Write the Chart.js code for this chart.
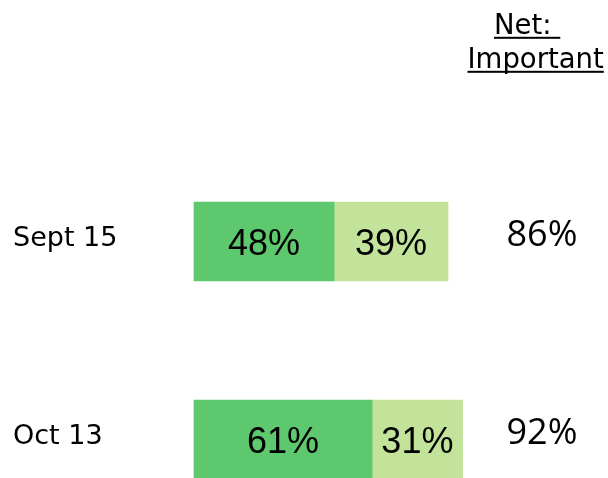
<!DOCTYPE html>
<html>
<head>
<meta charset="utf-8">
<script src="https://cdn.jsdelivr.net/npm/chart.js@4"></script>
<style>
  html, body { margin: 0; padding: 0; background: #fff; overflow: hidden; }
</style>
</head>
<body>
<canvas id="chart" width="608" height="478"></canvas>
<script>
const dates = ["Sept 15", "Oct 13"];
const veryImportant = [48, 61];
const somewhatImportant = [39, 31];
const netImportant = [86, 92];
const headerLines = ["Net: ", "Important"];

const darkGreen = "#5ec86e";
const lightGreen = "#c3e39b";

// percentages inside the bars, the net column on the right and its header
const textPlugin = {
  id: "textPlugin",
  afterDatasetsDraw(chart) {
    const ctx = chart.ctx;
    const yScale = chart.scales.y;
    ctx.save();
    ctx.fillStyle = "#000";
    ctx.textBaseline = "alphabetic";

    ctx.font = "36px 'Liberation Sans'";
    ctx.textAlign = "center";
    chart.data.datasets.forEach((ds, i) => {
      chart.getDatasetMeta(i).data.forEach((bar, j) => {
        const p = bar.getProps(["x", "y", "base"], true);
        ctx.fillText(ds.data[j] + "%", (p.x + p.base) / 2, p.y + 13);
      });
    });

    ctx.font = "36px 'Open Sans'";
    netImportant.forEach((v, j) => {
      ctx.fillText(v + "%", chart.chartArea.right + 56, yScale.getPixelForValue(j) + 4.5);
    });

    ctx.font = "27.5px 'DejaVu Sans'";
    ctx.textAlign = "left";
    const lefts = [494, 467.5];
    const bases = [34.3, 68.3];
    headerLines.forEach((t, k) => {
      const w = ctx.measureText(t).width;
      ctx.fillText(t, lefts[k], bases[k]);
      ctx.fillRect(lefts[k], bases[k] + 2.5, w, 2);
    });
    ctx.restore();
  }
};

new Chart(document.getElementById("chart"), {
  type: "bar",
  data: {
    labels: dates,
    datasets: [
      { label: "Very important", data: veryImportant, backgroundColor: darkGreen,
        barThickness: 79, clip: false },
      { label: "Somewhat important", data: somewhatImportant, backgroundColor: lightGreen,
        barThickness: 79, clip: false }
    ]
  },
  options: {
    indexAxis: "y",
    responsive: false,
    animation: false,
    layout: { padding: { top: 241.5, bottom: 38.5, left: 13, right: 122 } },
    plugins: {
      legend: { display: false },
      tooltip: { enabled: false }
    },
    scales: {
      x: { stacked: true, display: false, min: 0, max: 100 },
      y: {
        stacked: true,
        offset: false,
        grid: { display: false, drawTicks: false },
        border: { display: false },
        ticks: {
          color: "#000",
          font: { family: "DejaVu Sans", size: 27 },
          crossAlign: "far",
          padding: 0,
          labelOffset: -2.5
        },
        afterFit(scale) { scale.width = 181; }
      }
    }
  },
  plugins: [textPlugin]
});
</script>
</body>
</html>
